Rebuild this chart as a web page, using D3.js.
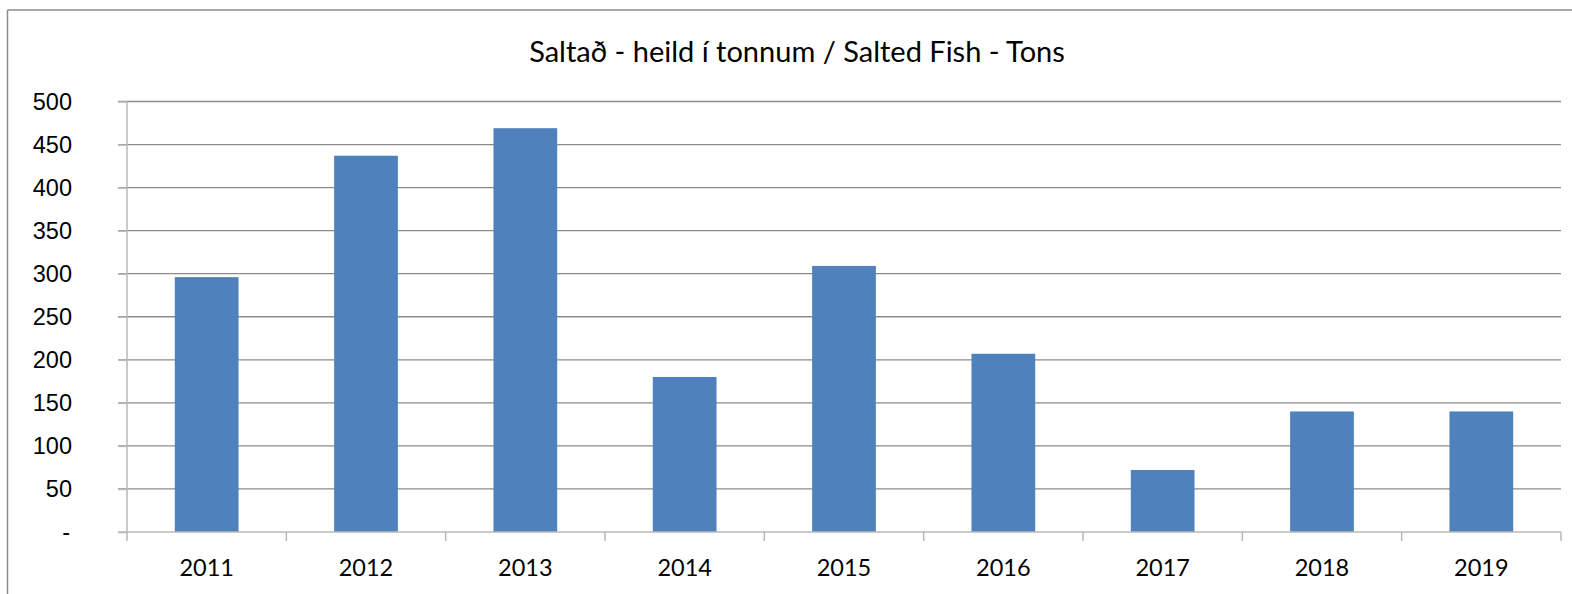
<!DOCTYPE html>
<html lang="en">
<head>
    <meta charset="UTF-8">
    <title>Saltað - heild í tonnum</title>
    <style>
        body { margin: 0; background: #fff; }
        svg { display: block; font-family: Lato, "Open Sans", sans-serif; }
        .grid line { stroke: #8c8c8c; stroke-width: 1.3px; }
        .axis path, .axis line { stroke: #b8b8b8; stroke-width: 1.5px; }
        .axis text { font-size: 23.5px; fill: #000; }
        .title { font-size: 29px; text-anchor: middle; fill: #000; }
    </style>
</head>
<body>
    <script src="https://d3js.org/d3.v7.min.js"></script>
    <script>
        const years = ["2011", "2012", "2013", "2014", "2015", "2016", "2017", "2018", "2019"];
        const tons = [296, 437, 469, 180, 309, 207, 72, 140, 140];
        const yTicks = [0, 50, 100, 150, 200, 250, 300, 350, 400, 450, 500];

        const width = 1572;
        const height = 594;
        const margin = { top: 101.5, right: 11, bottom: 62, left: 127 };

        const svg = d3.select("body").append("svg")
            .attr("width", width)
            .attr("height", height);

        // outer chart frame (only top and left edges show in the crop)
        svg.append("line")
            .attr("x1", 7.5).attr("x2", width)
            .attr("y1", 10).attr("y2", 10)
            .attr("stroke", "#8c8c8c").attr("stroke-width", 1.5);
        svg.append("line")
            .attr("x1", 7.5).attr("x2", 7.5)
            .attr("y1", 10).attr("y2", height)
            .attr("stroke", "#8c8c8c").attr("stroke-width", 1.5);

        svg.append("text")
            .attr("class", "title")
            .attr("x", 797)
            .attr("y", 62)
            .text("Saltað - heild í tonnum / Salted Fish - Tons");

        const x = d3.scaleBand()
            .domain(years)
            .range([margin.left, width - margin.right])
            .paddingInner(0.6)
            .paddingOuter(0.3);

        const y = d3.scaleLinear()
            .domain([0, 500])
            .range([height - margin.bottom, margin.top]);

        // horizontal gridlines, extended left by 9px like the tick marks
        svg.append("g")
            .attr("class", "grid")
            .selectAll("line")
            .data(yTicks.filter(d => d > 0))
            .enter().append("line")
            .attr("x1", margin.left - 9)
            .attr("x2", width - margin.right)
            .attr("y1", d => y(d))
            .attr("y2", d => y(d));

        svg.append("g")
            .selectAll("rect")
            .data(years)
            .enter().append("rect")
            .attr("x", d => x(d))
            .attr("width", x.bandwidth())
            .attr("y", (d, i) => y(tons[i]))
            .attr("height", (d, i) => y(0) - y(tons[i]))
            .attr("fill", "#4f81bd");

        // y axis
        const yAxis = svg.append("g")
            .attr("class", "axis")
            .attr("transform", `translate(${margin.left},0)`)
            .call(d3.axisLeft(y)
                .tickValues(yTicks)
                .tickSize(9)
                .tickPadding(46)
                .tickFormat(d => d === 0 ? "-" : d));
        yAxis.select(".domain").attr("d", `M0,${margin.top}V${height - margin.bottom}`);
        yAxis.selectAll(".tick text").filter(d => d === 0).attr("dx", -2);

        // x axis with ticks between categories
        const step = (width - margin.right - margin.left) / years.length;
        const xAxis = svg.append("g")
            .attr("class", "axis")
            .attr("transform", `translate(0,${y(0)})`);
        xAxis.append("line")
            .attr("x1", margin.left - 9)
            .attr("x2", width - margin.right)
            .attr("y1", 0).attr("y2", 0);
        xAxis.selectAll(".sep")
            .data(d3.range(years.length + 1))
            .enter().append("line")
            .attr("x1", i => margin.left + i * step)
            .attr("x2", i => margin.left + i * step)
            .attr("y1", 0).attr("y2", 9);
        xAxis.selectAll(".lbl")
            .data(years)
            .enter().append("text")
            .attr("x", d => x(d) + x.bandwidth() / 2)
            .attr("y", 44)
            .attr("text-anchor", "middle")
            .text(d => d);
    </script>
</body>
</html>
